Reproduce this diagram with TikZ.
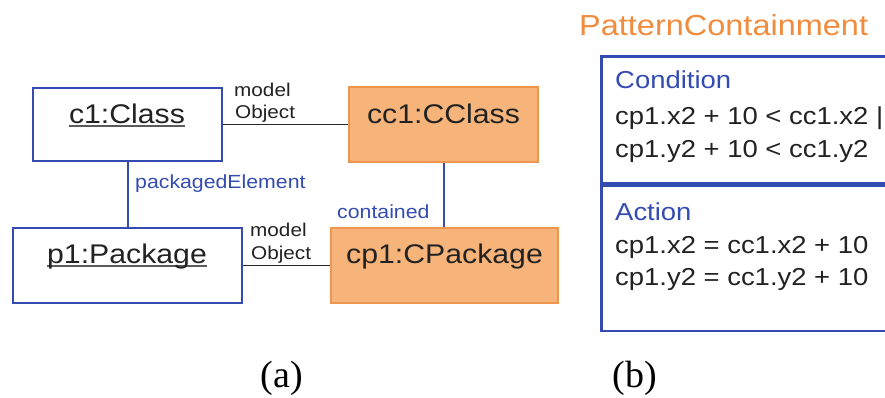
\documentclass[tikz,border=0pt]{standalone}
\usepackage{fontspec}
\setmainfont{Liberation Sans}[FakeStretch=1.12]
\newfontfamily\capfont{Liberation Serif}
\definecolor{umlblue}{RGB}{52,76,178}
\definecolor{fillorange}{RGB}{246,180,122}
\definecolor{edgeorange}{RGB}{238,150,78}
\definecolor{titleorange}{RGB}{240,140,62}
\definecolor{inkdark}{RGB}{34,34,34}
\definecolor{linkgray}{RGB}{40,40,40}
\definecolor{ulgray}{RGB}{90,90,90}
\newcommand{\fs}[1]{\fontsize{#1}{#1}\selectfont}
% underline drawn a little lower and thicker than \underline
\newcommand{\objname}[1]{\setbox0=\hbox{#1}\rlap{\color{ulgray}\rule[-4pt]{\wd0}{1.8pt}}\box0}
\tikzset{
  objbox/.style={draw=umlblue, line width=2.6pt, fill=white, inner sep=0pt},
  patbox/.style={draw=edgeorange, line width=1.8pt, fill=fillorange, inner sep=0pt},
  boxlabel/.style={inner sep=0pt, anchor=base, text=inkdark, font=\fs{27}},
  linklabel/.style={inner sep=0pt, anchor=base west, text=inkdark, font=\fs{18.5}},
  rolelabel/.style={inner sep=0pt, anchor=base west, text=umlblue, font=\fs{19}},
  plainlink/.style={draw=linkgray, line width=1.5pt},
  rolelink/.style={draw=umlblue, line width=2pt},
  panel/.style={draw=umlblue, line width=2.6pt, inner sep=0pt, anchor=north west, minimum width=320pt},
  paneltext/.style={inner sep=0pt, anchor=base west, text=inkdark, font=\fs{24.5}},
  panelhead/.style={inner sep=0pt, anchor=base west, text=umlblue, font=\fs{24.5}},
  caption/.style={inner sep=0pt, anchor=base, text=black, font=\capfont\fs{38}}
}
\begin{document}
\begin{tikzpicture}[x=1pt, y=-1pt]
\useasboundingbox[fill=white] (0,0) rectangle (885,397);

% ---- (a) object diagram ----
\node[objbox, minimum width=189pt, minimum height=73pt] (c1) at (127.5,124.5) {};
\node[patbox, minimum width=189pt, minimum height=75pt] (cc1) at (443.5,124.5) {};
\node[objbox, minimum width=229pt, minimum height=75pt] (p1) at (127.5,265.5) {};
\node[patbox, minimum width=227pt, minimum height=75pt] (cp1) at (444.5,265.5) {};

\node[boxlabel] (c1t) at (127,123) {\objname{c1:Class}};
\node[boxlabel] (cc1t) at (443.5,123) {cc1:CClass};
\node[boxlabel] (p1t) at (127,263) {\objname{p1:Package}};
\node[boxlabel] (cp1t) at (444.5,263) {cp1:CPackage};

\draw[plainlink] (c1.east) -- (cc1.west);
\draw[plainlink] (p1.east) -- (cp1.west);
\draw[rolelink] (c1.south) -- (p1.north);
\draw[rolelink] (cc1.south) -- (cc1.south |- cp1.north);

\node[linklabel] (m1a) at (234,96) {model};
\node[linklabel] (m1b) at (235,118) {Object};
\node[linklabel] (m2a) at (250,236) {model};
\node[linklabel] (m2b) at (251,259) {Object};
\node[rolelabel] (pe) at (135,188) {packagedElement};
\node[rolelabel] (ct) at (337,218) {contained};

% ---- (b) pattern rule ----
\node[inner sep=0pt, anchor=base west, text=titleorange, font=\fs{29}] (title) at (579,35) {PatternContainment};
\node[panel, minimum height=127pt] (cond) at (600,55) {};
\node[panel, minimum height=145pt] (act) at (cond.south west) {};

\node[panelhead] (condh) at (615,88) {Condition};
\node[paneltext] (cond1) at (615,124) {cp1.x2 + 10 < cc1.x2 ||};
\node[paneltext] (cond2) at (615,157) {cp1.y2 + 10 < cc1.y2};
\node[panelhead] (acth) at (615,220) {Action};
\node[paneltext] (act1) at (615,253) {cp1.x2 = cc1.x2 + 10};
\node[paneltext] (act2) at (615,285) {cp1.y2 = cc1.y2 + 10};

% ---- captions ----
\node[caption] (capa) at (282,387) {(a)};
\node[caption] (capb) at (635,387) {(b)};
\end{tikzpicture}
\end{document}
